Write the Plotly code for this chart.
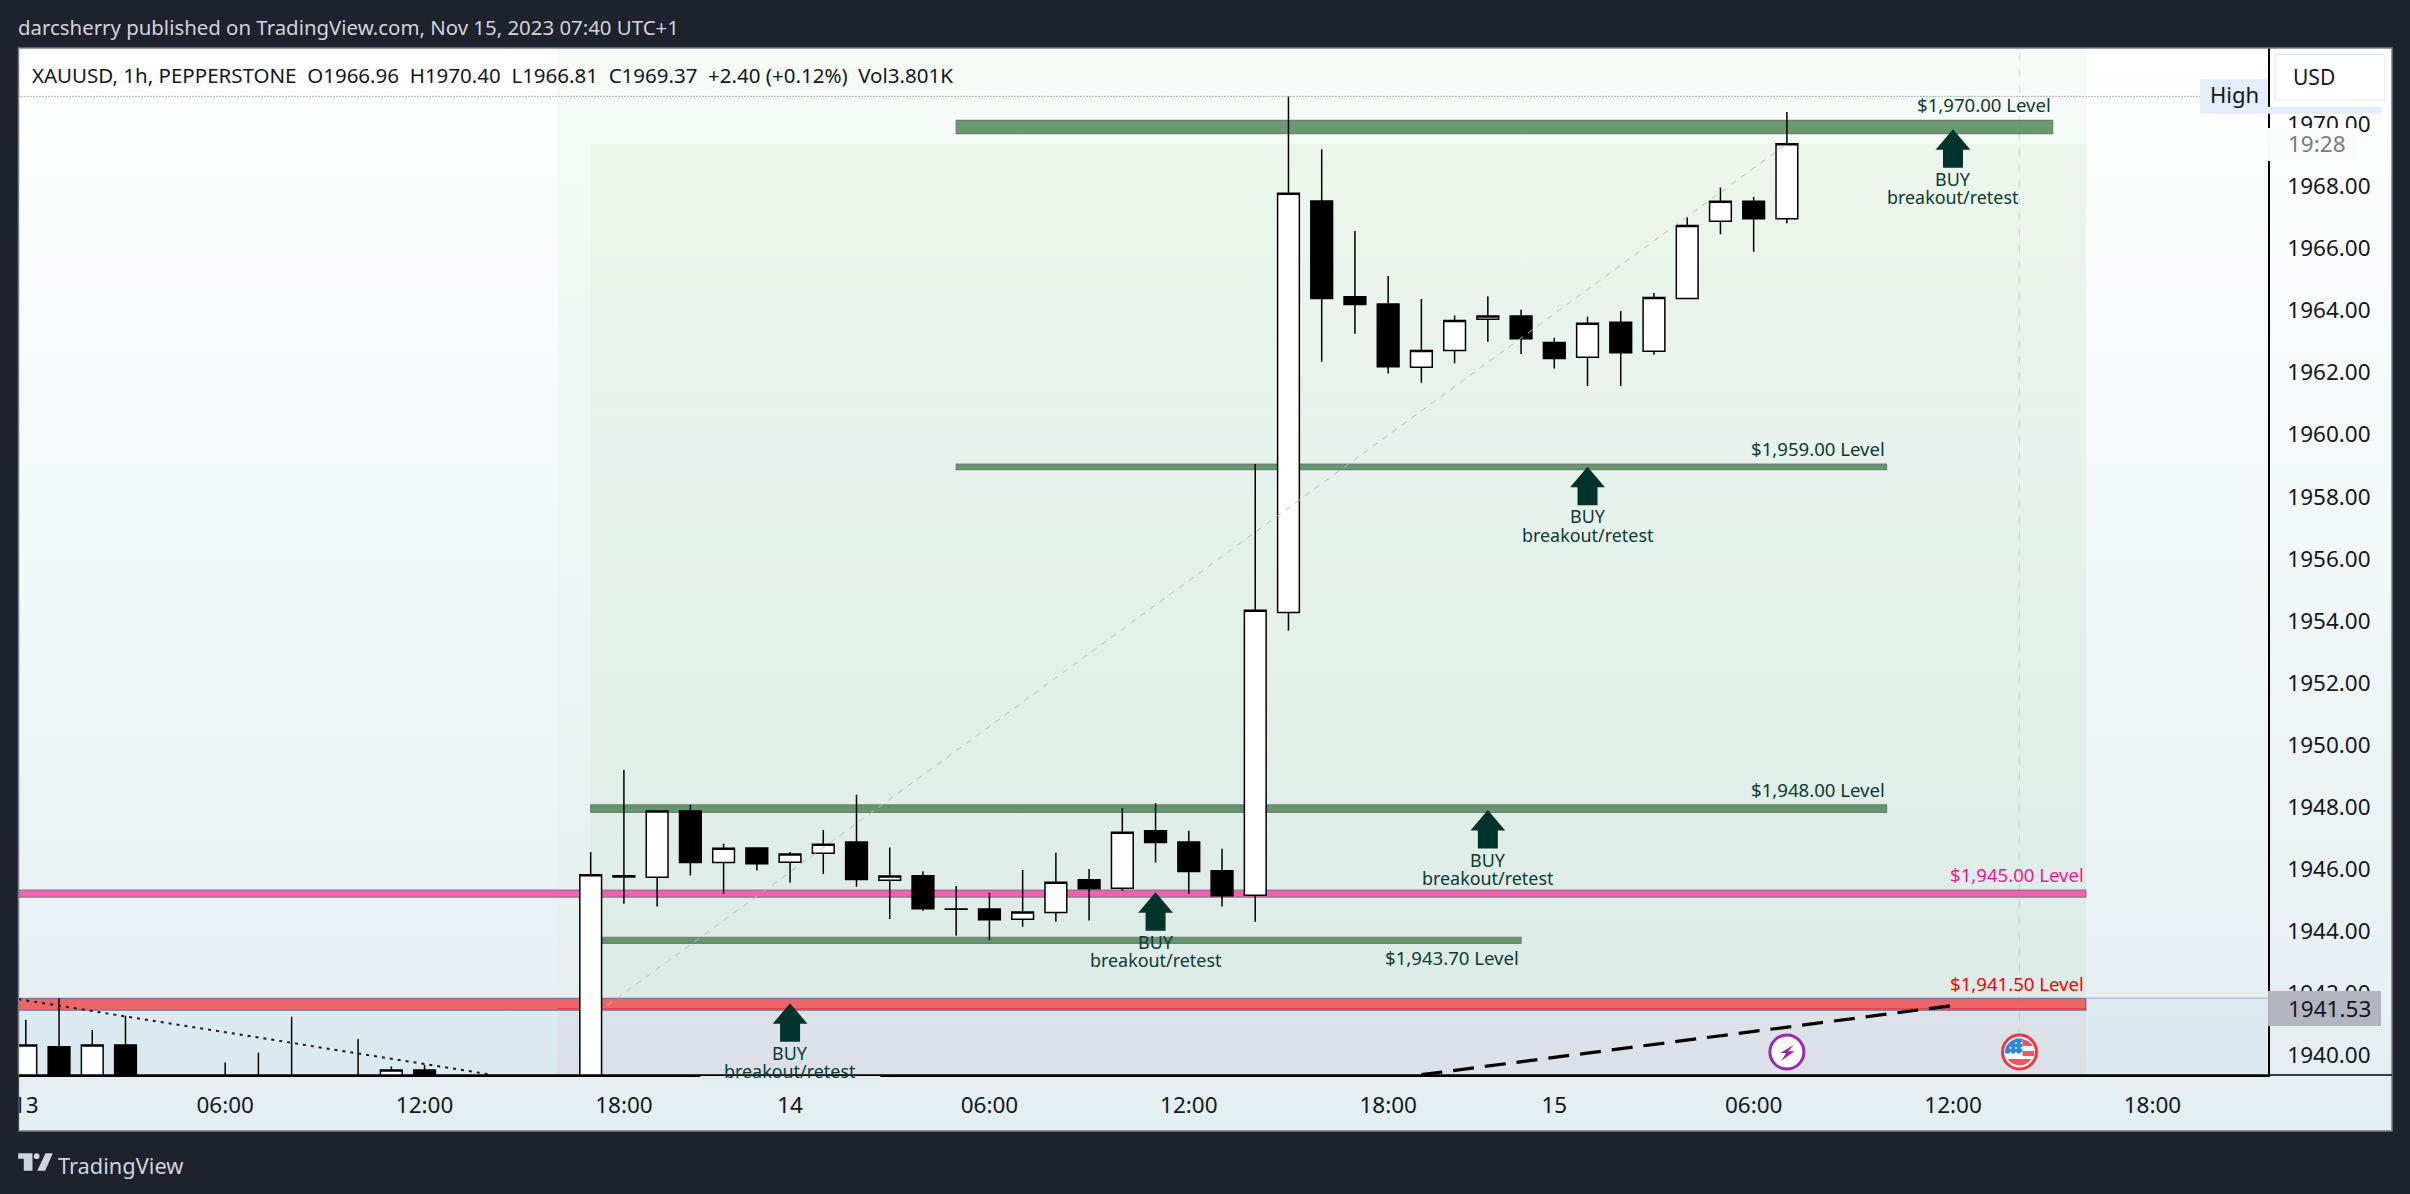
import plotly.graph_objects as go

# ---------- data ----------
bar_x = [0,1,2,3,6,7,8,10,11,12,17,18,19,20,21,22,23,24,25,26,27,28,29,30,31,32,33,34,35,36,37,38,39,40,41,42,43,44,45,46,47,48,49,50,51,52,53]
opens = [1938.9,1940.27,1938.9,1940.33,1938.6,1938.6,1938.7,1938.7,1939.1,1939.52,1937.6,1945.78,1945.73,1947.87,1946.21,1946.68,1946.22,1946.51,1946.87,1945.64,1945.78,1944.71,1944.71,1944.38,1944.6,1945.65,1945.38,1947.23,1946.87,1945.94,1945.15,1954.27,1967.53,1964.44,1964.21,1962.17,1962.71,1963.72,1963.82,1962.97,1962.49,1963.62,1962.69,1964.39,1966.88,1967.52,1966.96]
highs = [1941.14,1941.83,1940.81,1941.27,1939.76,1940.08,1941.24,1940.52,1939.63,1939.69,1946.55,1949.19,1947.87,1948.07,1946.81,1946.68,1946.55,1947.26,1948.39,1946.69,1945.93,1945.45,1945.23,1945.97,1946.52,1946.0,1947.96,1948.12,1947.23,1946.65,1959.05,1970.90,1969.2,1966.56,1965.11,1964.37,1963.84,1964.46,1964.02,1963.12,1963.8,1963.98,1964.56,1967.0,1967.96,1967.66,1970.40]
lows = [1938.5,1938.5,1938.5,1938.5,1938.3,1938.3,1938.3,1938.3,1938.8,1938.8,1937.2,1944.88,1944.79,1945.79,1945.2,1945.95,1945.56,1945.84,1945.43,1944.39,1944.65,1943.85,1943.71,1944.14,1944.3,1944.34,1945.3,1946.21,1945.2,1944.79,1944.3,1953.68,1962.35,1963.25,1961.97,1961.67,1962.3,1962.99,1962.6,1962.13,1961.57,1961.57,1962.57,1964.39,1966.46,1965.89,1966.81]
closes = [1940.33,1938.9,1940.33,1938.9,1938.9,1938.9,1939.0,1939.0,1939.52,1939.1,1945.81,1945.74,1947.87,1946.21,1946.67,1946.17,1946.48,1946.8,1945.66,1945.77,1944.72,1944.70,1944.36,1944.61,1945.57,1945.36,1947.18,1946.85,1945.92,1945.14,1954.34,1967.78,1964.39,1964.19,1962.19,1962.71,1963.68,1963.82,1963.09,1962.45,1963.59,1962.64,1964.42,1966.74,1967.52,1966.96,1969.37]

tick_idx = [0,6,12,18,23,29,35,41,46,52,58,64]
tick_txt = ["13","06:00","12:00","18:00","14","06:00","12:00","18:00","15","06:00","12:00","18:00"]
price_ticks = [1940,1942,1944,1946,1948,1950,1952,1954,1956,1958,1960,1962,1964,1966,1968,1970]

band_start = [28,28,17,-1,17,-1]
band_end = [61,56,56,62,45,62]
band_low = [1969.70,1958.87,1947.82,1945.09,1943.60,1941.45]
band_high = [1970.13,1959.05,1948.07,1945.32,1943.80,1941.83]
band_fill = ["rgba(60,120,65,0.75)"]*3+["rgba(255,20,147,0.65)","rgba(60,120,65,0.75)","rgba(245,30,30,0.65)"]
band_edge = ["rgba(110,120,115,0.9)"]*3+["rgba(120,123,134,0.9)","rgba(110,120,115,0.9)","rgba(100,110,170,0.9)"]

label_txt = ["$1,970.00 Level","$1,959.00 Level","$1,948.00 Level","$1,945.00 Level","$1,943.70 Level","$1,941.50 Level"]
label_end = [61,56,56,62,45,62]
label_y = [1970.65,1959.55,1948.55,1945.81,1943.14,1942.31]
label_col = ["#0b3b32"]*3+["#ff1493","#0b3b32","#ff0000"]

arrow_x = [58,47,44,34,23]
arrow_tip = [1969.84,1958.96,1947.90,1945.25,1941.67]

tool_x = [17.5,53]
tool_y = [1941.6,1969.37]
dash_x = [42,58]
dash_y = [1939.37,1941.6]
dot_x = [-0.22,13.95]
dot_y = [1941.8,1939.38]
high_x = [-0.22,65.6]
high_y = [1970.9,1970.9]
event_x = [53,60]
event_y = [1940.10,1940.10]

W, H = 2410, 1194
OFF = 5.5         # the page renders the plot area with this left inset
DARK = "#1e222d"
INK = "#131722"
FONT = "Noto Sans"

fig = go.Figure()

def panel(x0,y0,x1,y1,stops):
    fig.add_trace(go.Scatter(x=[x0,x1,x1,x0,x0],y=[y0,y0,y1,y1,y0],mode="lines",line=dict(width=0),
        fill="toself",fillgradient=dict(type="vertical",colorscale=stops),hoverinfo="skip",showlegend=False,xaxis="x",yaxis="y"))
panel(18,48,2392,1131,[[0,"#e3eef0"],[1,"#ffffff"]])
panel(557,48,2086,998,[[0,"rgba(76,175,80,0.008)"],[1,"rgba(76,175,80,0.05)"]])

fig.add_trace(go.Candlestick(x=bar_x,open=opens,high=highs,low=lows,close=closes,xaxis="x2",yaxis="y2",
    increasing=dict(line=dict(color="#000000",width=1.5),fillcolor="#ffffff"),
    decreasing=dict(line=dict(color="#000000",width=1.5),fillcolor="#000000"),
    whiskerwidth=0,hoverinfo="skip",showlegend=False))

for xs,ys,ln in [(tool_x,tool_y,dict(color="#b4c2b8",width=1,dash="6px,6px")),
                 (dash_x,dash_y,dict(color="#000000",width=3.2,dash="21px,11px")),
                 (dot_x,dot_y,dict(color="#1a1a1a",width=2,dash="3px,5px")),
                 (high_x,high_y,dict(color="#6a6d78",width=1,dash="1px,2px"))]:
    fig.add_trace(go.Scatter(x=xs,y=ys,mode="lines",line=ln,xaxis="x2",yaxis="y2",hoverinfo="skip",showlegend=False))

fig.add_trace(go.Scatter(x=event_x,y=event_y,mode="markers",xaxis="x2",yaxis="y2",hoverinfo="skip",showlegend=False,
    marker=dict(size=34,color="#ffffff",line=dict(width=3,color=["#9c27b0","#f23645"]))))

shapes = []
def dr(x0,x1,y0,y1,fill,line=None,w=0,layer="below"):
    shapes.append(dict(type="rect",xref="x2",yref="y2",x0=x0,x1=x1,y0=y0,y1=y1,fillcolor=fill,
                       line=dict(color=line or "rgba(0,0,0,0)",width=w),layer=layer))
dr(-0.22,67.48,1939.36,1941.83,"rgba(33,150,243,0.05)")
dr(17,62,1941.83,1969.37,"rgba(76,175,80,0.05)")
dr(16,62,1939.36,1941.45,"rgba(242,54,69,0.05)")
for s,e,lo,hi,f,l in zip(band_start,band_end,band_low,band_high,band_fill,band_edge):
    dr(s,e,lo,hi,f,l,1.2)
shapes.append(dict(type="line",xref="x2",yref="y2",x0=16,x1=62,y0=1941.50,y1=1941.50,line=dict(color="rgba(220,50,60,0.6)",width=1.2),layer="below"))
shapes.append(dict(type="line",xref="x2",yref="y2",x0=60,x1=60,y0=1940.6,y1=1972.46,line=dict(color="rgba(242,54,69,0.22)",width=1,dash="8px,8px"),layer="below"))
shapes.append(dict(type="line",xref="x2",yref="y2",x0=62,x1=67.48,y0=1941.84,y1=1941.84,line=dict(color="#b9aee6",width=1.2),layer="below"))

ARROW = "M 0 0 L 17.4 -20.4 L 10 -20.4 L 10 -38.4 L -10 -38.4 L -10 -20.4 L -17.4 -20.4 Z"
for ax,at in zip(arrow_x,arrow_tip):
    shapes.append(dict(type="path",xref="x2",yref="y2",xsizemode="pixel",ysizemode="pixel",xanchor=ax,yanchor=at,
                       path=ARROW,fillcolor="#00332c",line=dict(width=0),layer="above"))

def anchored(path,ax,ay,fill):
    shapes.append(dict(type="path",xref="x2",yref="y2",xsizemode="pixel",ysizemode="pixel",xanchor=ax,yanchor=ay,
                       path=path,fillcolor=fill,line=dict(width=0),layer="above"))
anchored("M 7 7.3 L -6.7 -1 L -0.7 -1 L -5.7 -9 L 7.7 0.7 L 1.3 0.7 Z",event_x[0],event_y[0],"#9c27b0")
fx,fy = event_x[1],event_y[1]
anchored("M -14.5 -1.5 L -14.5 2 Q -13 10 -3 13.5 L 3 13.5 L 3 -1.5 Z",fx,fy,"#2e86de")
anchored("M 3 13 Q 10 11.5 13.5 6 L 3 6 Z",fx,fy,"#f7525f")
anchored("M 3 1 L 14.5 1 L 14.5 -4 L 3 -4 Z",fx,fy,"#f7525f")
anchored("M -12 -7 L 12 -7 Q 7 -13.5 0 -13.5 Q -7 -13.5 -12 -7 Z",fx,fy,"#f7525f")
for dx in (-9,-3.5,2):
    for dy in (9,4,-1):
        if not (dx==-9 and dy==9):
            anchored(f"M {dx-1.2} {dy} L {dx} {dy+1.2} L {dx+1.2} {dy} L {dx} {dy-1.2} Z",fx,fy,"#ffffff")

def px(x0,y0,x1,y1,fill,line=None,w=0,layer="above"):
    shapes.append(dict(type="rect",xref="x",yref="y",x0=x0,x1=x1,y0=y0,y1=y1,fillcolor=fill,
                       line=dict(color=line or "rgba(0,0,0,0)",width=w),layer=layer))
px(18,48,2392,1131,"rgba(0,0,0,0)","#787b86",1.5)
px(OFF,1076,18,1194,DARK)
px(700,1076,880,1086,"#e3eef0")
px(2268,128,2356,161,"#fbfdfd")
px(2200,79,2268,113.7,"#e3edfb")
px(2268,106.7,2381.7,113.7,"#e3edfb")
px(2275,54.7,2385,100,"#ffffff","#e8e9f0",1.2)
px(2268,991,2381,1026,"#b2b5be")
shapes.append(dict(type="line",xref="x",yref="y",x0=18,x1=2392,y0=1075,y1=1075,line=dict(color="#000",width=1.5),layer="above"))
shapes.append(dict(type="path",xref="x",yref="y",path="M 17.7 1153.3 L 32 1153.3 L 32 1170.7 L 23.3 1170.7 L 23.3 1158.7 L 17.7 1158.7 Z",fillcolor="#d1d4dc",line=dict(width=0),layer="above"))
shapes.append(dict(type="circle",xref="x",yref="y",x0=33.3,x1=39,y0=1153.3,y1=1159,fillcolor="#d1d4dc",line=dict(width=0),layer="above"))
shapes.append(dict(type="path",xref="x",yref="y",path="M 45 1153.3 L 52.3 1153.3 L 44.7 1170.7 L 36.7 1170.7 Z",fillcolor="#d1d4dc",line=dict(width=0),layer="above"))

ann = []
def pt(x,y,text,size,color,anchor="left"):
    ann.append(dict(xref="x",yref="y",x=x,y=y,text=text,showarrow=False,xanchor=anchor,yanchor="middle",
                    font=dict(family=FONT,size=size,color=color)))
pt(15,27,"darcsherry published on TradingView.com, Nov 15, 2023 07:40 UTC+1",20.4,"#d1d4dc")
pt(29,75,"XAUUSD, 1h, PEPPERSTONE\u00a0\u00a0O1966.96\u00a0\u00a0H1970.40\u00a0\u00a0L1966.81\u00a0\u00a0C1969.37\u00a0\u00a0+2.40 (+0.12%)\u00a0\u00a0Vol3.801K",20.5,INK)
pt(56,1165,"TradingView",21.8,"#d1d4dc")
pt(2291,77,"USD",21,INK)
pt(2208,94,"High",22,INK)
pt(2286,143,"19:28",22.5,"#787b86")
pt(2286,1008,"1941.53",22.5,INK)

for t,e,y,c in zip(label_txt,label_end,label_y,label_col):
    ann.append(dict(xref="x2",yref="y2",x=e,y=y,text=t,showarrow=False,xanchor="right",yanchor="middle",
                    font=dict(family=FONT,size=18.6,color=c)))
for ax,at in zip(arrow_x,arrow_tip):
    ann.append(dict(xref="x2",yref="y2",x=ax,y=at,text="BUY",showarrow=False,xanchor="center",yanchor="middle",yshift=-49.5,
                    font=dict(family=FONT,size=17.9,color="#0b3b32")))
    ann.append(dict(xref="x2",yref="y2",x=ax,y=at,text="breakout/retest",showarrow=False,xanchor="center",yanchor="middle",yshift=-68,
                    font=dict(family=FONT,size=17.9,color="#0b3b32")))

PW = W-OFF
fig.update_layout(
    width=W,height=H,autosize=False,margin=dict(l=0,r=0,t=0,b=0,pad=0),
    paper_bgcolor=DARK,plot_bgcolor="rgba(0,0,0,0)",boxgap=0.065,showlegend=False,
    shapes=shapes,annotations=ann,
    xaxis=dict(domain=[0,1],range=[OFF,W],visible=False,fixedrange=True),
    yaxis=dict(domain=[0,1],range=[H,0],visible=False,fixedrange=True),
    xaxis2=dict(domain=[(18-OFF)/PW,(2268-OFF)/PW],range=[-0.22,67.48],anchor="y2",showgrid=False,zeroline=False,
        rangeslider=dict(visible=False),tickmode="array",tickvals=tick_idx,ticktext=tick_txt,ticks="",
        ticklabelstandoff=9,tickfont=dict(family=FONT,size=22.5,color=INK),showline=True,linecolor="#000",linewidth=1.5,fixedrange=True),
    yaxis2=dict(domain=[1-1075/H,1-48/H],range=[1939.36,1972.46],anchor="x2",side="right",showgrid=False,zeroline=False,
        tickmode="array",tickvals=price_ticks,ticktext=[f"{v}.00" for v in price_ticks],ticks="",
        ticklabelstandoff=13,tickfont=dict(family=FONT,size=22.5,color=INK),showline=True,linecolor="#000",linewidth=1.5,fixedrange=True),
)

fig.write_html("out.html",config=dict(displayModeBar=False),post_script="document.body.style.margin='0';document.body.style.overflow='hidden';")
